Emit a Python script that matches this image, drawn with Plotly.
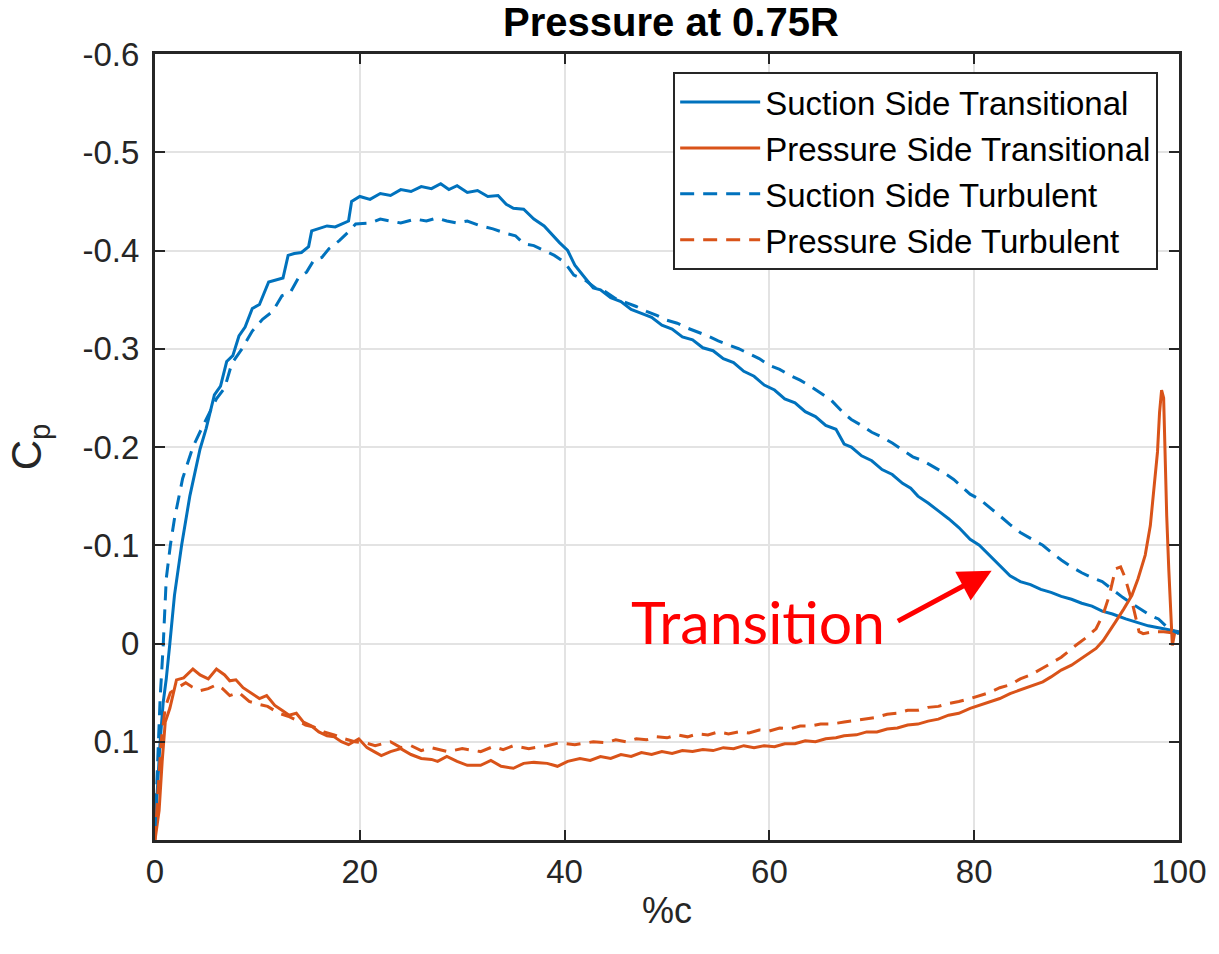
import plotly.graph_objects as go

# ---------------- data ----------------
# Suction Side Transitional
ss_tr_x = [0, 0.2, 0.5, 0.8, 1.1, 1.45, 1.9, 2.6, 3.4, 4.4, 5.0, 5.8, 6.4, 7.0, 7.6, 8.2, 8.8, 9.5,
           10.2, 11.1, 11.7, 12.5, 13.0, 13.6, 14.3, 15.0, 15.3, 16.0, 16.8, 17.6, 18.4, 18.9, 19.2,
           20.0, 21, 22, 23, 24, 25, 26, 27, 27.9, 28.7, 29.5, 30.5, 31.5, 32.5, 33.5, 34.3, 35, 36,
           37, 38, 39, 39.5, 40.3, 41, 42, 42.8, 43.5, 44.5, 45.5, 46.5, 47.5, 48.5, 49.5, 50.5, 51.5,
           52.5, 53.5, 54.5, 55.5, 56.5, 57.5, 58.5, 59.5, 60.5, 61.5, 62.5, 63.5, 64.5, 65.5, 66.5,
           67.3, 68, 69, 70, 71, 72, 73, 73.8, 74.5, 75.5, 76.5, 77.5, 78.5, 79.6, 80.5, 81.5, 82.5,
           83.5, 84.5, 85.5, 86.5, 87.5, 88.5, 89.5, 90.5, 91.5, 92.5, 93.5, 94.8, 96, 97, 98, 99.3, 100]
ss_tr_cp = [0.19, 0.15, 0.10, 0.06, 0.036, 0.0, -0.049, -0.10, -0.15, -0.198, -0.219, -0.253, -0.262,
            -0.287, -0.293, -0.313, -0.322, -0.341, -0.345, -0.368, -0.370, -0.372, -0.395, -0.397,
            -0.398, -0.404, -0.420, -0.422, -0.425, -0.424, -0.428, -0.430, -0.450, -0.455, -0.452,
            -0.458, -0.456, -0.462, -0.460, -0.465, -0.463, -0.468, -0.462, -0.466, -0.459, -0.461,
            -0.455, -0.456, -0.447, -0.443, -0.442, -0.432, -0.425, -0.413, -0.408, -0.400, -0.385,
            -0.372, -0.362, -0.360, -0.352, -0.348, -0.340, -0.336, -0.332, -0.324, -0.320, -0.312,
            -0.309, -0.301, -0.298, -0.290, -0.286, -0.277, -0.272, -0.263, -0.258, -0.249, -0.245,
            -0.236, -0.231, -0.222, -0.218, -0.203, -0.200, -0.191, -0.186, -0.177, -0.172, -0.163,
            -0.158, -0.150, -0.143, -0.135, -0.127, -0.118, -0.106, -0.100, -0.090, -0.080, -0.069,
            -0.063, -0.060, -0.055, -0.052, -0.048, -0.045, -0.041, -0.038, -0.033, -0.030, -0.025,
            -0.021, -0.018, -0.016, -0.013, -0.012]

# Pressure Side Transitional
ps_tr_x = [0, 0.4, 0.7, 1.0, 1.45, 2.1, 2.8, 3.7, 4.4, 5.2, 6.0, 6.8, 7.3, 7.9, 8.6, 9.3, 10.2, 10.9,
           11.7, 12.4, 13.1, 13.8, 14.5, 15.3, 16.0, 16.8, 17.5, 18.2, 18.9, 19.9, 20.7, 21.4, 22.1,
           23, 24, 25, 26, 27, 27.6, 28.5, 29.5, 30.5, 31.8, 32.8, 33.8, 35, 36, 37, 38.3, 39.3, 40.3,
           41.5, 42.5, 43.5, 44.5, 45.5, 46.5, 47.5, 48.5, 49.5, 50.5, 51.5, 52.5, 53.5, 54.5, 55.5,
           56.5, 57.5, 58.5, 59.5, 60.5, 61.5, 62.5, 63.5, 64.5, 65.5, 66.5, 67.3, 68.5, 69.5, 70.5,
           71.5, 72.5, 73.5, 74.5, 75.5, 76.5, 77.5, 78.5, 79.6, 80.5, 81.5, 82.5, 83.5, 84.5, 85.5,
           86.7, 87.5, 88.5, 89.5, 90.5, 91.3, 91.9, 92.6, 93.2, 93.8, 94.6, 95.4, 96.0, 96.7, 97.2,
           97.6, 97.9, 98.1, 98.3, 98.5, 98.6, 98.8, 99.0, 99.2, 99.35, 99.6, 100]
ps_tr_cp = [0.20, 0.17, 0.12, 0.08, 0.066, 0.037, 0.035, 0.026, 0.032, 0.036, 0.026, 0.032, 0.038,
            0.037, 0.045, 0.050, 0.056, 0.053, 0.063, 0.068, 0.073, 0.071, 0.080, 0.084, 0.090, 0.094,
            0.095, 0.100, 0.103, 0.097, 0.106, 0.110, 0.114, 0.110, 0.107, 0.113, 0.117, 0.118, 0.120,
            0.115, 0.120, 0.124, 0.124, 0.119, 0.125, 0.127, 0.122, 0.121, 0.122, 0.125, 0.120, 0.117,
            0.119, 0.115, 0.117, 0.113, 0.115, 0.111, 0.113, 0.110, 0.112, 0.109, 0.110, 0.108, 0.109,
            0.106, 0.107, 0.104, 0.106, 0.104, 0.105, 0.102, 0.102, 0.099, 0.100, 0.097, 0.096, 0.094,
            0.093, 0.090, 0.090, 0.087, 0.086, 0.083, 0.082, 0.079, 0.077, 0.073, 0.071, 0.066, 0.063,
            0.059, 0.056, 0.051, 0.047, 0.043, 0.039, 0.034, 0.027, 0.022, 0.015, 0.010, 0.005, -0.003,
            -0.012, -0.022, -0.035, -0.049, -0.066, -0.090, -0.120, -0.160, -0.195, -0.235, -0.258,
            -0.250, -0.200, -0.130, -0.076, -0.020, 0.002, -0.012, -0.010]

# Suction Side Turbulent
ss_tu_x = [0, 0.3, 0.5, 0.8, 1.1, 1.5, 1.9, 2.7, 3.7, 4.7, 6.0, 6.8, 7.5, 8.5, 9.5, 10.5, 11.5, 12.4,
           13.2, 14.0, 14.8, 15.5, 16.3, 17.0, 18.0, 19.0, 19.6, 21, 22, 23, 24, 25.4, 26.5, 27.5, 28.5,
           29.5, 30.5, 31.8, 33, 34.4, 35.2, 36, 37, 38, 39, 40, 40.9, 42, 43, 44, 45, 46, 47, 48, 49,
           50, 51, 52, 53, 54, 55, 56, 57, 58, 59, 60, 61, 62, 63, 64, 65, 66, 67.3, 68, 69, 70, 71, 72,
           73, 74, 75, 76, 77, 78, 79.6, 80.5, 81.5, 82.5, 83.5, 84.5, 85.5, 86.7, 87.5, 88.5, 89.5,
           90.5, 91.5, 92.5, 93.5, 94.5, 95.5, 96.5, 97.3, 98, 99, 100]
ss_tu_cp = [0.19, 0.10, 0.056, 0.002, -0.066, -0.100, -0.127, -0.168, -0.200, -0.222, -0.249, -0.260,
            -0.285, -0.300, -0.318, -0.330, -0.338, -0.354, -0.357, -0.372, -0.378, -0.390, -0.393,
            -0.402, -0.410, -0.420, -0.427, -0.428, -0.432, -0.430, -0.428, -0.432, -0.430, -0.433,
            -0.430, -0.428, -0.430, -0.425, -0.422, -0.417, -0.415, -0.407, -0.405, -0.400, -0.395,
            -0.388, -0.375, -0.370, -0.362, -0.358, -0.351, -0.347, -0.343, -0.338, -0.334, -0.329,
            -0.326, -0.321, -0.317, -0.313, -0.308, -0.304, -0.300, -0.295, -0.290, -0.283, -0.279,
            -0.273, -0.268, -0.262, -0.255, -0.248, -0.234, -0.228, -0.222, -0.215, -0.210, -0.204,
            -0.197, -0.190, -0.186, -0.180, -0.174, -0.167, -0.152, -0.147, -0.138, -0.130, -0.121,
            -0.113, -0.107, -0.100, -0.093, -0.085, -0.078, -0.072, -0.067, -0.063, -0.055, -0.047,
            -0.040, -0.033, -0.028, -0.025, -0.015, -0.010]

# Pressure Side Turbulent
ps_tu_x = [0, 0.3, 0.6, 1.0, 1.5, 2.2, 3.0, 3.6, 4.4, 5.2, 6.0, 6.6, 7.3, 8.2, 9.2, 10.2, 11.0, 12.1,
           13.0, 14.0, 14.7, 15.5, 16.5, 17.5, 18.5, 19.5, 20.5, 21.5, 23, 24, 25, 26, 27, 28.6, 30,
           31.8, 33, 34, 35, 36.5, 38.3, 39.5, 41, 42.8, 44, 45, 46, 47, 48, 49, 50, 51, 52, 53, 54,
           55, 56, 57, 58, 59, 60, 61, 62, 63, 64, 65, 66, 67.3, 68.5, 69.5, 70.5, 71.5, 72.5, 73.5,
           74.5, 75.5, 76.5, 77.5, 78.5, 79.6, 80.5, 81.5, 82.5, 83.5, 84.5, 85.5, 86.7, 87.5, 88.5,
           89.9, 90.8, 91.9, 92.6, 93.2, 93.8, 94.3, 94.7, 95.4, 96.1, 96.5, 97.5, 98.5, 100]
ps_tu_cp = [0.20, 0.15, 0.10, 0.065, 0.050, 0.045, 0.040, 0.044, 0.048, 0.046, 0.042, 0.046, 0.053,
            0.050, 0.059, 0.062, 0.064, 0.071, 0.074, 0.079, 0.083, 0.085, 0.090, 0.093, 0.097, 0.100,
            0.101, 0.104, 0.100, 0.106, 0.104, 0.109, 0.106, 0.110, 0.107, 0.110, 0.105, 0.108, 0.104,
            0.107, 0.104, 0.101, 0.103, 0.100, 0.101, 0.098, 0.100, 0.097, 0.098, 0.095, 0.096, 0.093,
            0.095, 0.092, 0.093, 0.090, 0.092, 0.090, 0.091, 0.088, 0.089, 0.086, 0.087, 0.084, 0.084,
            0.082, 0.082, 0.080, 0.078, 0.076, 0.075, 0.072, 0.071, 0.068, 0.068, 0.065, 0.064, 0.061,
            0.059, 0.056, 0.053, 0.050, 0.045, 0.042, 0.036, 0.032, 0.025, 0.020, 0.014, 0.002, -0.005,
            -0.015, -0.030, -0.049, -0.076, -0.078, -0.068, -0.043, -0.012, -0.010, -0.012, -0.012,
            -0.010]

series_names = ["Suction Side Transitional", "Pressure Side Transitional",
                "Suction Side Turbulent", "Pressure Side Turbulent"]
x_ticks = [0, 20, 40, 60, 80, 100]
y_ticks = [-0.6, -0.5, -0.4, -0.3, -0.2, -0.1, 0, 0.1]
y_tick_labels = ["-0.6", "-0.5", "-0.4", "-0.3", "-0.2", "-0.1", "0", "0.1"]

BLUE = "#0072BD"
ORANGE = "#D95319"
DASH = "14px,9px"
FONT = "Liberation Sans, Arial"

fig = go.Figure()
fig.add_trace(go.Scatter(x=ss_tr_x, y=ss_tr_cp, mode="lines", name=series_names[0],
                         line=dict(color=BLUE, width=3)))
fig.add_trace(go.Scatter(x=ps_tr_x, y=ps_tr_cp, mode="lines", name=series_names[1],
                         line=dict(color=ORANGE, width=3)))
fig.add_trace(go.Scatter(x=ss_tu_x, y=ss_tu_cp, mode="lines", name=series_names[2],
                         line=dict(color=BLUE, width=3, dash=DASH)))
fig.add_trace(go.Scatter(x=ps_tu_x, y=ps_tu_cp, mode="lines", name=series_names[3],
                         line=dict(color=ORANGE, width=3, dash=DASH)))

axis_common = dict(
    showline=True, linecolor="#262626", linewidth=3, mirror="ticks",
    ticks="inside", ticklen=10, tickwidth=2, tickcolor="#262626",
    showgrid=True, gridcolor="#E3E3E3", gridwidth=2, zeroline=False,
    tickfont=dict(family=FONT, size=33, color="#262626"),
)

fig.update_layout(
    width=1219, height=954,
    margin=dict(l=155, r=32, t=54, b=114),
    paper_bgcolor="white", plot_bgcolor="white",
    font=dict(family=FONT, color="#000000"),
    title=dict(text="<b>Pressure at 0.75R</b>", x=(675 - 155) / 1032, xref="paper", xanchor="center",
               y=1 - 22 / 954, yref="container", yanchor="middle",
               font=dict(family=FONT, size=40, color="#000000")),
    xaxis=dict(range=[0, 100], tickvals=x_ticks,
               title=dict(text="%c", standoff=10,
                          font=dict(family=FONT, size=36, color="#262626")),
               **axis_common),
    yaxis=dict(range=[0.2, -0.6], tickvals=y_ticks, ticktext=y_tick_labels,
               ticklabelstandoff=6,
               title=dict(text="C<sub>p</sub>", standoff=28,
                          font=dict(family=FONT, size=42, color="#262626")),
               **axis_common),
    legend=dict(x=(1166 - 155) / 1032, y=0.977, xanchor="right", yanchor="top",
                bgcolor="white", bordercolor="#262626", borderwidth=2,
                font=dict(family=FONT, size=33, color="#000000"),
                itemwidth=80, tracegroupgap=0),
    showlegend=True,
)

fig.add_annotation(x=81.7, y=-0.074, ax=72.4, ay=-0.022, xref="x", yref="y",
                   axref="x", ayref="y", text="", showarrow=True,
                   arrowhead=2, arrowsize=1.3, arrowwidth=5, arrowcolor="#FF0000")
fig.add_annotation(x=58.9, y=-0.022, xref="x", yref="y", text="Transition", showarrow=False,
                   xanchor="center", yanchor="middle",
                   font=dict(family="Lato", size=59, color="#FF0000"))

fig.write_html("out.html")
